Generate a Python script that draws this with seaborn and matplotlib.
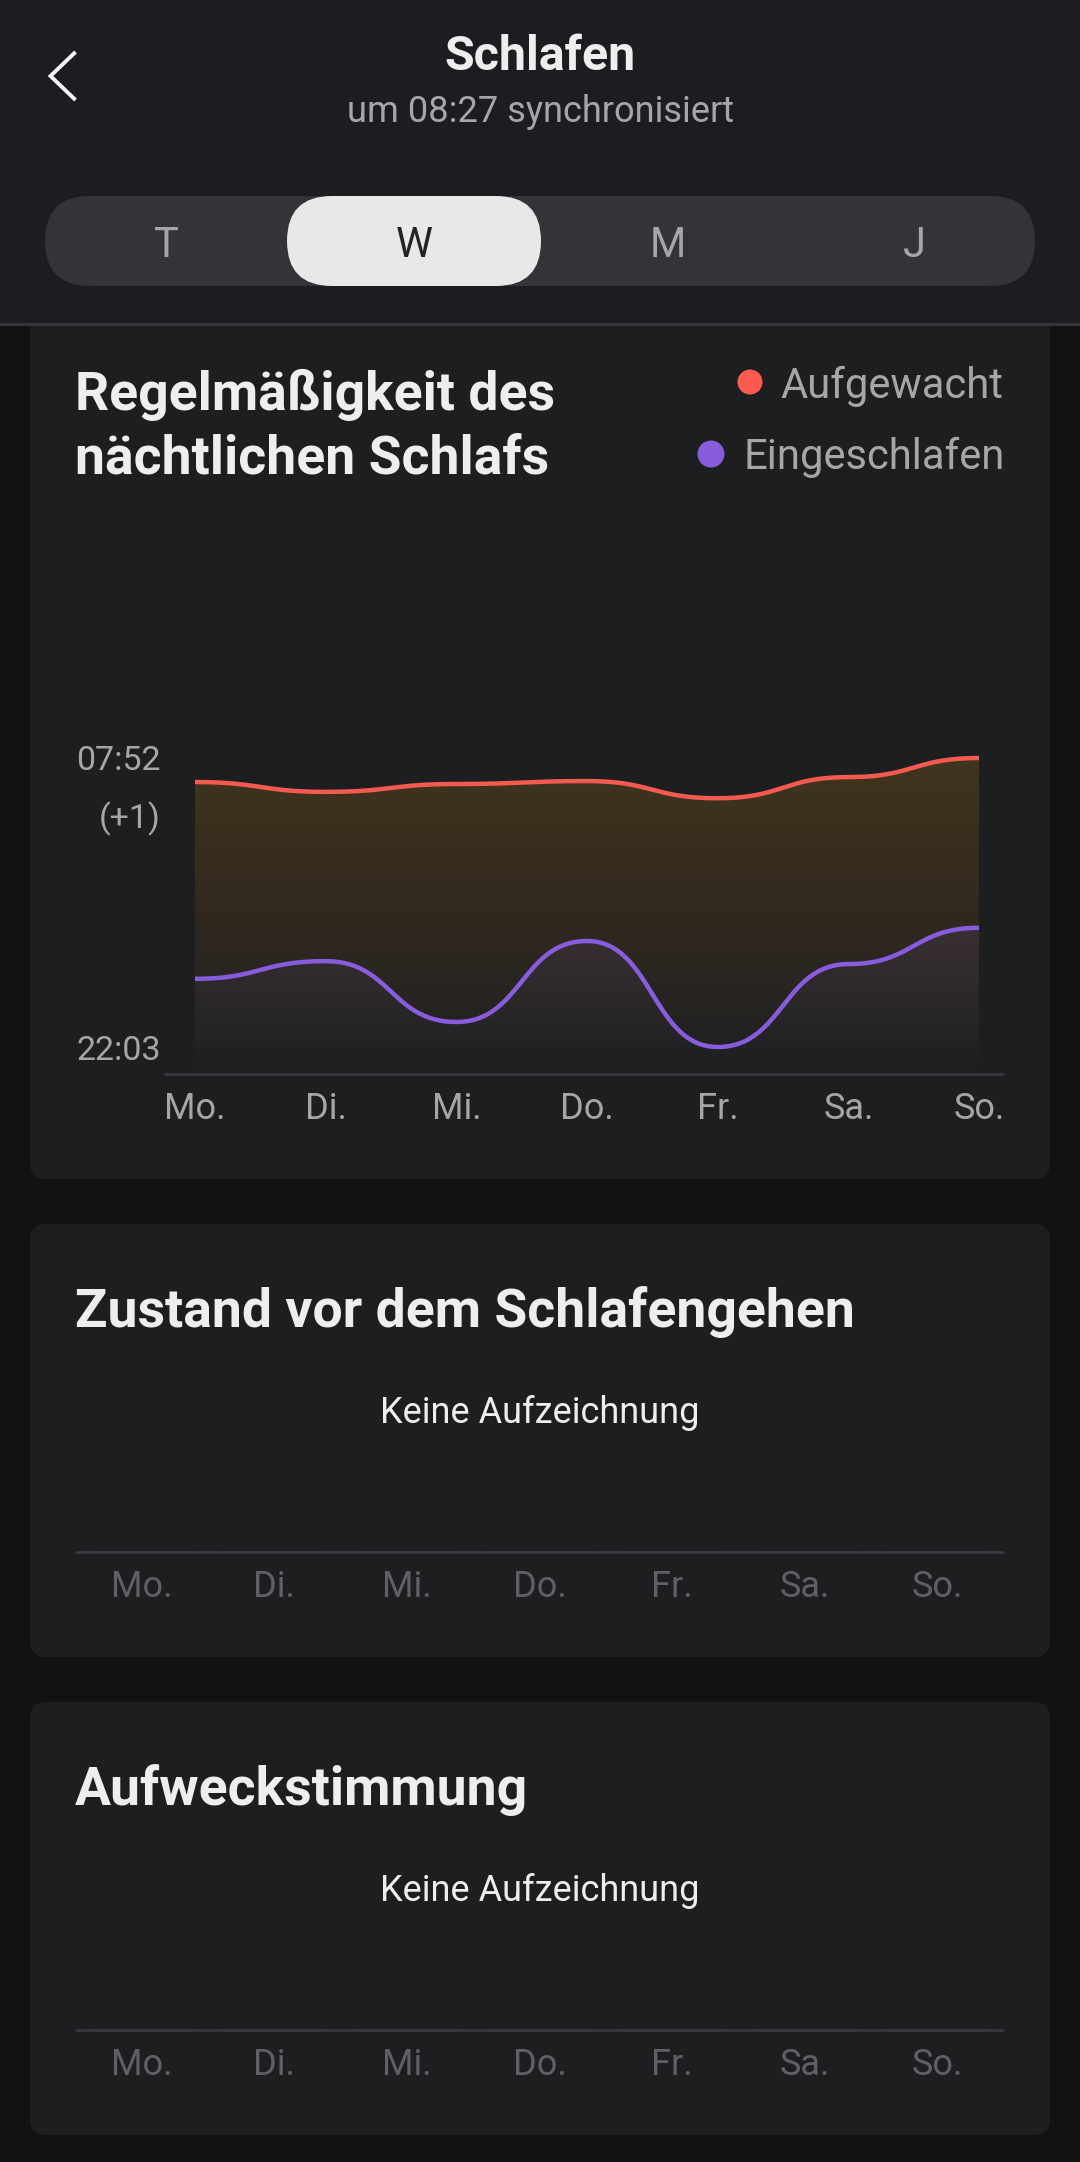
import numpy as np
import pandas as pd
import matplotlib
matplotlib.use("Agg")
import matplotlib.pyplot as plt
import seaborn as sns
from matplotlib.colors import LinearSegmentedColormap
from matplotlib.patches import FancyBboxPatch, Circle, PathPatch

# Chart data: minutes after 22:03 of the previous evening
days = ["Mo.", "Di.", "Mi.", "Do.", "Fr.", "Sa.", "So."]
woke_up = [540, 520, 536, 542, 507, 550, 589]
fell_asleep = [139, 175, 51, 216, 0, 169, 243]
no_records = [0, 0, 0, 0, 0, 0, 0]
time_ticks = [589, 0]
time_labels = ["07:52", "22:03"]
tabs = ["T", "W", "M", "J"]

PAGE = "#111213"
CARD = "#1c1e20"
HEADER = "#1c1d20"
AXIS = "#37383b"
GREY = "#a6a6a8"
DIM = "#5f6063"
WHITE = "#eeeeee"
RED = "#f55a50"
PURPLE = "#885ddd"

W, H = 1080, 2162

sns.set_theme(style="dark")
plt.rcParams["font.family"] = ["Roboto", "DejaVu Sans"]

fig = plt.figure(figsize=(W / 100, H / 100), dpi=100, facecolor=PAGE)


def pixel_axes(x0, y0, x1, y1, **kwargs):
    """Axes placed by its pixel box (y counted from the top of the picture)."""
    return fig.add_axes([x0 / W, 1 - y1 / H, (x1 - x0) / W, (y1 - y0) / H], **kwargs)


def box(ax, x0, y0, x1, y1, radius, color, zorder=1):
    ax.add_patch(FancyBboxPatch((x0, y0), x1 - x0, y1 - y0,
                                boxstyle=f"round,pad=0,rounding_size={radius}",
                                facecolor=color, edgecolor="none", zorder=zorder))


def bump_curve(values, steps=60):
    """Smooth day-to-day curve with flat tangents at every day."""
    t = np.linspace(0, 1, steps)
    xs, ys = [], []
    for i in range(len(values) - 1):
        x0, x1 = i, i + 1
        y0, y1 = values[i], values[i + 1]
        xm = (x0 + x1) / 2
        xs.append((1 - t) ** 3 * x0 + 3 * (1 - t) ** 2 * t * xm + 3 * (1 - t) * t ** 2 * xm + t ** 3 * x1)
        ys.append((1 - t) ** 3 * y0 + 3 * (1 - t) ** 2 * t * y0 + 3 * (1 - t) * t ** 2 * y1 + t ** 3 * y1)
    return np.concatenate(xs), np.concatenate(ys)


def gradient_under(ax, xs, ys, colors, top, bottom, zorder):
    """Vertical colour ramp clipped to the area under a curve."""
    poly = ax.fill_between(xs, ys, bottom, facecolor="none", edgecolor="none")
    cmap = LinearSegmentedColormap.from_list("ramp", colors)
    ramp = np.linspace(0, 1, 256).reshape(-1, 1)
    im = ax.imshow(ramp, cmap=cmap, aspect="auto", origin="upper",
                   extent=(0, 6, bottom, top), zorder=zorder, interpolation="bilinear")
    im.set_clip_path(PathPatch(poly.get_paths()[0], transform=ax.transData))


def bottom_spine_only(axis):
    for side, spine in axis.spines.items():
        spine.set_visible(side == "bottom")
        spine.set_color(AXIS)
        spine.set_linewidth(2.0)
        spine.set_capstyle("butt")


# Page layer in pixel coordinates
base = pixel_axes(0, 0, W, H)
base.set_xlim(0, W)
base.set_ylim(H, 0)
base.axis("off")

box(base, 30, 290, 1050, 1179, 16, CARD)
box(base, 30, 1224, 1050, 1657, 16, CARD)
box(base, 30, 1702, 1050, 2135, 16, CARD)

# Header
base.fill_between([0, W], 0, 323, color=HEADER, zorder=2, lw=0)
base.fill_between([0, W], 323, 325.5, color="#35363a", zorder=2, lw=0)
base.plot([75.5, 50.5, 75.5], [52, 76, 100], color="#f4f4f4", lw=2.8, zorder=3,
          solid_joinstyle="miter", solid_capstyle="butt")
base.text(540, 70, "Schlafen", ha="center", va="baseline", fontsize=34.8, fontweight="bold",
          color=WHITE, zorder=3)
base.text(540.5, 122, "um 08:27 synchronisiert", ha="center", va="baseline", fontsize=26.1,
          color=GREY, zorder=3)

# Period switch
box(base, 45, 196, 1035, 286, 45, "#333437", zorder=3)
box(base, 287, 196, 541, 286, 45, "#e8e8e8", zorder=4)
for tab, tx in zip(tabs, [166, 414, 668, 914]):
    base.text(tx, 257, tab, ha="center", va="baseline", fontsize=30,
              color="#232325" if tab == "W" else GREY, zorder=5)

# Card headings
for line, ty in [("Regelmäßigkeit des", 410), ("nächtlichen Schlafs", 473),
                 ("Zustand vor dem Schlafengehen", 1327), ("Aufweckstimmung", 1805)]:
    base.text(75, ty, line, fontsize=38.5, fontweight="bold", color=WHITE, va="baseline")

# Legend
base.add_patch(Circle((750, 382), 12.5, color="#ff5a4f", lw=0))
base.add_patch(Circle((711, 454), 13.5, color=PURPLE, lw=0))
base.text(1003.5, 398, "Aufgewacht", ha="right", va="baseline", fontsize=30.1, color=GREY)
base.text(1004.5, 469, "Eingeschlafen", ha="right", va="baseline", fontsize=30.1, color=GREY)
base.text(160.5, 828, "(+1)", ha="right", va="baseline", fontsize=24.5, color=GREY)

# Sleep regularity chart
PX_PER_DAY = 784 / 6
MIN_PER_PX = 589 / 289
ax = pixel_axes(164, 700, 1004, 1074, facecolor="none")

x_wake, y_wake = bump_curve(woke_up)
x_sleep, y_sleep = bump_curve(fell_asleep)
floor = -40
gradient_under(ax, x_wake, y_wake, ["#41351d", "#31291f", "#1f2022"], 595, floor, zorder=1)
gradient_under(ax, x_sleep, y_sleep, ["#3a3034", "#2c282a", "#1e1f21"], 250, floor, zorder=2)

lines = pd.concat([
    pd.DataFrame({"x": x_wake, "y": y_wake, "kind": "Aufgewacht"}),
    pd.DataFrame({"x": x_sleep, "y": y_sleep, "kind": "Eingeschlafen"}),
])
sns.lineplot(data=lines, x="x", y="y", hue="kind", palette=[RED, PURPLE], lw=3.2, sort=False,
             estimator=None, legend=False, ax=ax, zorder=3, solid_capstyle="butt")

ax.set_xlim(-31 / PX_PER_DAY, 6 + 25 / PX_PER_DAY)
ax.set_ylim(-27 * MIN_PER_PX, (1047 - 700) * MIN_PER_PX)
ax.set_xticks(range(len(days)), days)
ax.set_yticks(time_ticks, time_labels)
ax.set(xlabel="", ylabel="")
ax.grid(False)
ax.tick_params(axis="x", length=0, pad=12.5, labelsize=26, labelcolor=GREY)
ax.tick_params(axis="y", length=0, pad=2.3, labelsize=24.5, labelcolor=GREY)
bottom_spine_only(ax)

# The two empty cards share one layout
for top in [1224, 1702]:
    empty = pixel_axes(75, top + 100, 1004, top + 328, facecolor="none")
    sns.barplot(x=days, y=no_records, ax=empty)
    empty.set_ylim(0, 1)
    empty.set_yticks([])
    empty.set(xlabel="", ylabel="")
    empty.grid(False)
    empty.tick_params(axis="x", length=0, pad=12.5, labelsize=26, labelcolor=DIM)
    bottom_spine_only(empty)
    base.text(540, top + 199, "Keine Aufzeichnung", ha="center", va="baseline", fontsize=26, color="#eeeeee")

fig.savefig("out.png", dpi=100, facecolor=PAGE)
